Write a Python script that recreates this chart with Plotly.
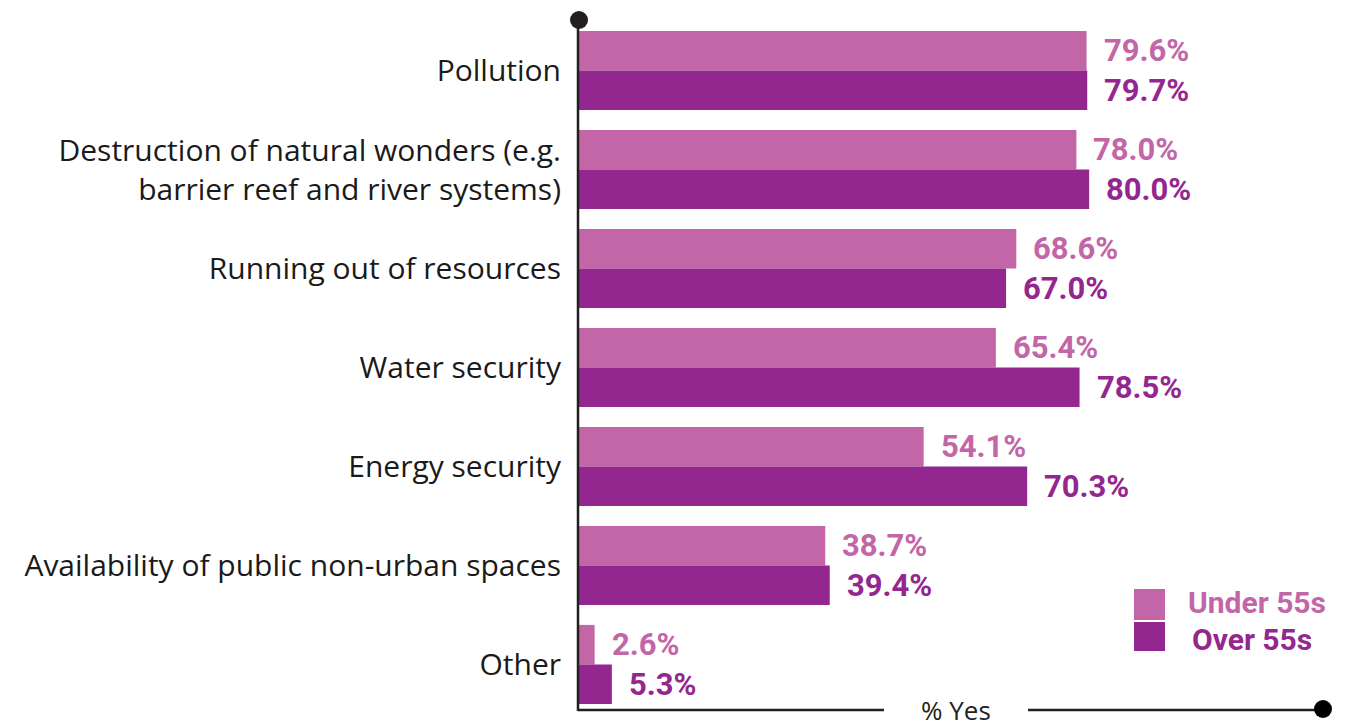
import plotly.graph_objects as go

categories = [
    "Pollution",
    "Destruction of natural wonders (e.g.<br>barrier reef and river systems)",
    "Running out of resources",
    "Water security",
    "Energy security",
    "Availability of public non-urban spaces",
    "Other",
]
under_55 = [79.6, 78.0, 68.6, 65.4, 54.1, 38.7, 2.6]
over_55 = [79.7, 80.0, 67.0, 78.5, 70.3, 39.4, 5.3]
series_names = ["Under 55s", "Over 55s"]
axis_title = "% Yes"

UNDER_C = "#C366A7"
OVER_C = "#93278F"
DARK = "#231F20"

# page body has an 8px margin; work in page pixels and shift
OFF = 8
W, H = 1357 - OFF, 727 - OFF
L, R, T, B = 578 - OFF, 1323 - OFF, 21 - OFF, 714 - OFF


def px_x(p):
    return (p - OFF - L) / (R - L)


def px_y(p):
    return (B - (p - OFF)) / (B - T)


fig = go.Figure()
fig.add_trace(go.Bar(y=categories, x=under_55, orientation="h", name=series_names[0],
                     marker=dict(color=UNDER_C, line=dict(width=0)), showlegend=False))
fig.add_trace(go.Bar(y=categories, x=over_55, orientation="h", name=series_names[1],
                     marker=dict(color=OVER_C, line=dict(width=0)), showlegend=False))

annotations = []
for cat, v in zip(categories, under_55):
    annotations.append(dict(x=v, y=cat, xref="x", yref="y", text=f"{v:.1f}%", showarrow=False,
                            xanchor="left", yanchor="middle", xshift=15, yshift=20,
                            font=dict(family="Roboto", size=31, color=UNDER_C, weight="bold")))
for cat, v in zip(categories, over_55):
    annotations.append(dict(x=v, y=cat, xref="x", yref="y", text=f"{v:.1f}%", showarrow=False,
                            xanchor="left", yanchor="middle", xshift=15, yshift=-20,
                            font=dict(family="Roboto", size=31, color=OVER_C, weight="bold")))

# axis title
annotations.append(dict(x=px_x(956), y=px_y(710), xref="paper", yref="paper", text=axis_title,
                        showarrow=False, xanchor="center", yanchor="middle", height=26,
                        font=dict(family="Open Sans", size=26, color=DARK)))
# legend texts
annotations.append(dict(x=px_x(1186), y=px_y(602), xref="paper", yref="paper", text=series_names[0],
                        showarrow=False, xanchor="left", yanchor="middle", height=30,
                        font=dict(family="Roboto", size=30, color=UNDER_C, weight="bold")))
annotations.append(dict(x=px_x(1190), y=px_y(639), xref="paper", yref="paper", text=series_names[1],
                        showarrow=False, xanchor="left", yanchor="middle", height=30,
                        font=dict(family="Roboto", size=30, color=OVER_C, weight="bold")))

shapes = [
    # left axis line
    dict(type="line", xref="paper", yref="paper", x0=0, x1=0, y0=px_y(20), y1=px_y(711),
         line=dict(color=DARK, width=2.5)),
    # bottom axis line with gap for title
    dict(type="line", xref="paper", yref="paper", x0=0, x1=px_x(884), y0=px_y(710), y1=px_y(710),
         line=dict(color=DARK, width=2.5)),
    dict(type="line", xref="paper", yref="paper", x0=px_x(1028), x1=px_x(1323), y0=px_y(710), y1=px_y(710),
         line=dict(color=DARK, width=2.5)),
    # dots
    dict(type="circle", xref="paper", yref="paper", xsizemode="pixel", ysizemode="pixel",
         xanchor=px_x(579), yanchor=px_y(20), x0=-9, x1=9, y0=-9, y1=9,
         fillcolor=DARK, line=dict(width=0)),
    dict(type="circle", xref="paper", yref="paper", xsizemode="pixel", ysizemode="pixel",
         xanchor=px_x(1323), yanchor=px_y(709), x0=-9, x1=9, y0=-9, y1=9,
         fillcolor="#000000", line=dict(width=0)),
    # legend squares
    dict(type="rect", xref="paper", yref="paper", x0=px_x(1134), x1=px_x(1165), y0=px_y(620), y1=px_y(589),
         fillcolor=UNDER_C, line=dict(width=0)),
    dict(type="rect", xref="paper", yref="paper", x0=px_x(1134), x1=px_x(1165), y0=px_y(651), y1=px_y(622),
         fillcolor=OVER_C, line=dict(width=0)),
]

fig.update_layout(
    width=W, height=H,
    margin=dict(l=L, r=W - R, t=T, b=H - B, pad=0),
    paper_bgcolor="white", plot_bgcolor="white",
    barmode="group", bargap=0.2, bargroupgap=0,
    xaxis=dict(range=[0, 116.6], visible=False, fixedrange=True),
    yaxis=dict(autorange="reversed", showline=False, showgrid=False, zeroline=False, ticks="",
               ticklabelstandoff=16,
               tickfont=dict(family="Open Sans", size=30, color="#1a1a1a")),
    annotations=annotations, shapes=shapes,
    showlegend=False,
)

fig.write_html("out.html")
